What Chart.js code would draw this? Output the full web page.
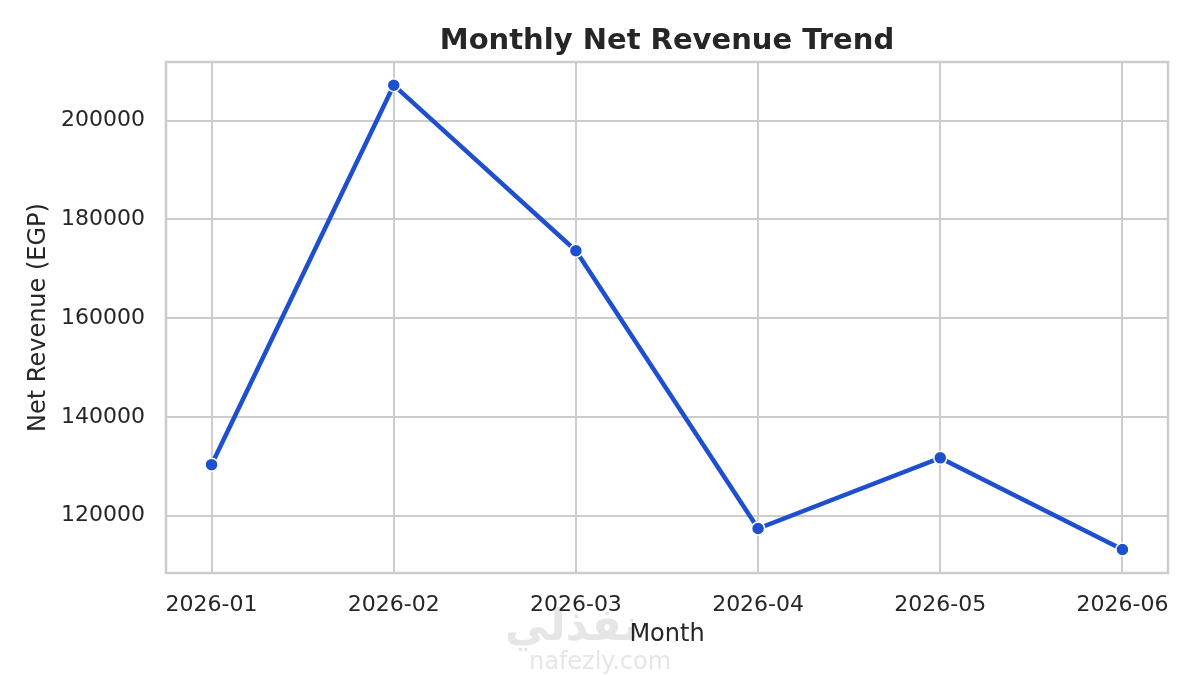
<!DOCTYPE html>
<html>
<head>
<meta charset="utf-8">
<title>Monthly Net Revenue Trend</title>
<script src="https://cdn.jsdelivr.net/npm/chart.js@4.4.1/dist/chart.umd.min.js"></script>
<style>
  html, body { margin: 0; padding: 0; background: #ffffff; }
  #wrap { width: 1200px; height: 675px; }
</style>
</head>
<body>
<div id="wrap"><canvas id="revenueChart" width="1200" height="675"></canvas></div>
<script>
// chart data
var months = ['2026-01', '2026-02', '2026-03', '2026-04', '2026-05', '2026-06'];
var netRevenue = [130300, 207200, 173650, 117370, 131680, 113120];
var yTicks = [120000, 140000, 160000, 180000, 200000];

var textColor = '#262626';
var gridColor = '#cccccc';
var fontFamily = "'DejaVu Sans', 'Liberation Sans', sans-serif";

// frame round the plot area (all four spines, like seaborn whitegrid)
var framePlugin = {
    id: 'frame',
    afterDatasetsDraw: function(chart) {
        var a = chart.chartArea, c = chart.ctx;
        c.save();
        c.strokeStyle = gridColor;
        c.lineWidth = 2.5;
        c.strokeRect(a.left, a.top, a.right - a.left, a.bottom - a.top);
        c.restore();
    }
};

// faint watermark under the x axis
var watermarkPlugin = {
    id: 'watermark',
    beforeDraw: function(chart) {
        var c = chart.ctx;
        c.save();
        c.fillStyle = '#e6e6e6';
        c.textAlign = 'center';
        c.textBaseline = 'alphabetic';
        c.font = "bold 44px " + fontFamily;
        c.fillText('نفذلي', 572, 640);
        c.font = "24px " + fontFamily;
        c.fillText('nafezly.com', 600, 669);
        c.restore();
    }
};

document.addEventListener('DOMContentLoaded', function() {
    var ctx = document.getElementById('revenueChart').getContext('2d');

    var points = months.map(function(m, i) { return { x: i, y: netRevenue[i] }; });

    new Chart(ctx, {
        type: 'line',
        data: {
            datasets: [{
                label: 'Net Revenue',
                data: points,
                borderColor: '#1e4fcf',
                backgroundColor: '#1e4fcf',
                borderWidth: 4.5,
                pointRadius: 6.5,
                pointBorderColor: '#ffffff',
                pointBorderWidth: 1.5,
                pointBackgroundColor: '#1e4fcf',
                tension: 0,
                fill: false
            }]
        },
        options: {
            responsive: false,
            animation: false,
            layout: { padding: { left: 0, right: 32, top: 0, bottom: 0 } },
            plugins: {
                legend: { display: false },
                tooltip: { enabled: false },
                title: {
                    display: true,
                    text: 'Monthly Net Revenue Trend',
                    fullSize: false,
                    color: textColor,
                    font: { family: fontFamily, size: 29, weight: 'bold', lineHeight: 1.2 },
                    padding: { top: 24, bottom: 3.2 }
                }
            },
            scales: {
                x: {
                    type: 'linear',
                    min: -0.25,
                    max: 5.25,
                    afterBuildTicks: function(axis) {
                        axis.ticks = months.map(function(m, i) { return { value: i }; });
                    },
                    afterFit: function(axis) { axis.height = 102; },
                    ticks: {
                        color: textColor,
                        font: { family: fontFamily, size: 22 },
                        padding: 19,
                        maxRotation: 0,
                        autoSkip: false,
                        callback: function(value) { return months[value]; }
                    },
                    grid: { color: gridColor, lineWidth: 2, drawTicks: false },
                    border: { display: false },
                    title: {
                        display: true,
                        text: 'Month',
                        color: textColor,
                        font: { family: fontFamily, size: 24, lineHeight: 1.2 },
                        padding: { top: 0, bottom: 26 }
                    }
                },
                y: {
                    min: 108350,
                    max: 211900,
                    afterBuildTicks: function(axis) {
                        axis.ticks = yTicks.map(function(v) { return { value: v }; });
                    },
                    afterFit: function(axis) { axis.width = 166; },
                    ticks: {
                        color: textColor,
                        font: { family: fontFamily, size: 22 },
                        padding: 21,
                        callback: function(value) { return String(value); }
                    },
                    grid: { color: gridColor, lineWidth: 2, drawTicks: false },
                    border: { display: false },
                    title: {
                        display: true,
                        text: 'Net Revenue (EGP)',
                        color: textColor,
                        font: { family: fontFamily, size: 24, lineHeight: 1.2 },
                        padding: { top: 24, bottom: 0 }
                    }
                }
            }
        },
        plugins: [watermarkPlugin, framePlugin]
    });
});
</script>
</body>
</html>
